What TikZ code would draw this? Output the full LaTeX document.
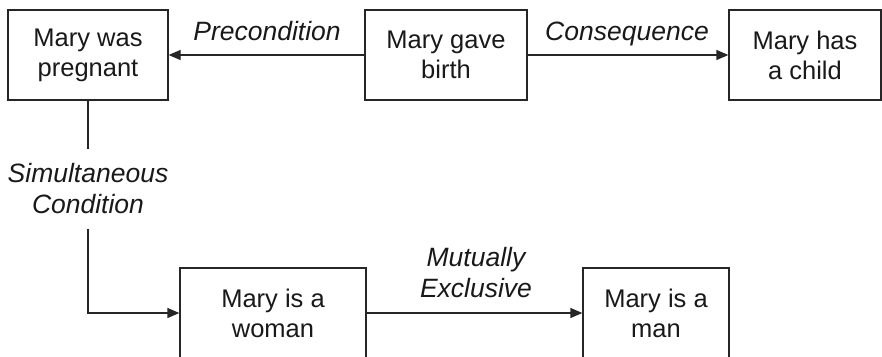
\documentclass[tikz,border=0pt]{standalone}
\usepackage{fontspec}
\setmainfont{Liberation Sans}
\usetikzlibrary{arrows.meta}
\begin{document}
\begin{tikzpicture}[x=1pt,y=-1pt,
  every node/.style={font=\fontsize{25.5}{30}\selectfont, text=black!90, align=center},
  event/.style={draw=black!85, line width=1.3pt, minimum height=90pt, inner sep=0pt, fill=white},
  rel/.style={font=\fontsize{26.5}{31}\selectfont\itshape, inner sep=0pt},
  link/.style={draw=black!85, line width=1.3pt},
  arr/.style={link, -{Triangle[length=12pt,width=10pt]}}]
\useasboundingbox (0,0) rectangle (882,356);
\clip (0,0) rectangle (882,356);

% events
\node[event, minimum width=160pt] (preg)  at (88,55)  {Mary was\\pregnant};
\node[event, minimum width=162pt] (birth) at (446,55) {Mary gave\\birth};
\node[event, minimum width=152pt] (child) at (805,55) {Mary has\\a child};
\node[event, minimum width=186pt] (woman) at (273,313) {Mary is a\\woman};
\node[event, minimum width=146pt] (man)   at (656,313) {Mary is a\\man};

% relation labels
\node[rel, anchor=base] (pre)  at (267,40)  {Precondition};
\node[rel, anchor=base] (cons) at (627,40)  {Consequence};
\node[rel] (mut)  at (476,273) {Mutually\\Exclusive};
\node[rel, minimum height=79pt] (sim) at (88,189) {Simultaneous\\Condition};

% relations
\draw[arr] (birth.west) -- (preg.east);
\draw[arr] (birth.east) -- (child.west);
\draw[arr] (woman.east) -- (man.west);
\draw[link] (preg.south) -- (sim.north);
\draw[arr] (sim.south) |- (woman.west);
\end{tikzpicture}
\end{document}
